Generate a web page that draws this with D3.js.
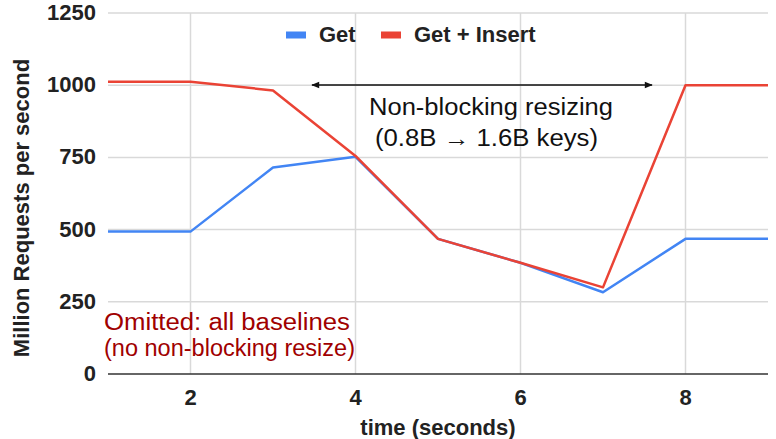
<!DOCTYPE html>
<html>
<head>
<meta charset="utf-8">
<script src="https://cdn.jsdelivr.net/npm/d3@7"></script>
<style>
  body { margin: 0; background: white; }
  svg { display: block; font-family: "Liberation Sans", Arial, sans-serif; }
</style>
</head>
<body>
<svg class="chart" width="776" height="439"></svg>
<script>
const times = [1, 2, 3, 4, 5, 6, 7, 8, 9];
const getValues = [493, 493, 715, 752, 468, 385, 283, 468, 468];
const getInsertValues = [1012, 1012, 982, 755, 468, 385, 300, 1000, 1000];
const xTicks = [2, 4, 6, 8];
const yTicks = [0, 250, 500, 750, 1000, 1250];
const seriesNames = ["Get", "Get + Insert"];
const colors = ["#4285f4", "#ea4335"];

const margin = { left: 108, right: 8, top: 13, bottom: 65 };
const width = 776, height = 439;

const svg = d3.select("svg.chart");

const x = d3.scaleLinear().domain([1, 9]).range([margin.left, width - margin.right]);
const y = d3.scaleLinear().domain([0, 1250]).range([height - margin.bottom, margin.top]);

// grid
svg.append("g")
  .selectAll("line")
  .data(yTicks.filter((d) => d > 0))
  .join("line")
  .attr("x1", x(1))
  .attr("x2", x(9))
  .attr("y1", (d) => y(d))
  .attr("y2", (d) => y(d))
  .attr("stroke", "#d9d9d9")
  .attr("stroke-width", 1.5);

svg.append("g")
  .selectAll("line")
  .data(xTicks)
  .join("line")
  .attr("x1", (d) => x(d))
  .attr("x2", (d) => x(d))
  .attr("y1", y(1250))
  .attr("y2", y(0))
  .attr("stroke", "#d9d9d9")
  .attr("stroke-width", 1.5);

// baseline
svg.append("line")
  .attr("x1", x(1))
  .attr("x2", x(9))
  .attr("y1", y(0))
  .attr("y2", y(0))
  .attr("stroke", "#333")
  .attr("stroke-width", 1.5);

// y labels
svg.append("g")
  .selectAll("text")
  .data(yTicks)
  .join("text")
  .attr("x", 96)
  .attr("y", (d) => y(d) + 7)
  .attr("text-anchor", "end")
  .attr("font-size", 22)
  .attr("font-weight", "bold")
  .attr("fill", "#222")
  .text((d) => d);

// x labels
svg.append("g")
  .selectAll("text")
  .data(xTicks)
  .join("text")
  .attr("x", (d) => x(d))
  .attr("y", 405)
  .attr("text-anchor", "middle")
  .attr("font-size", 22)
  .attr("font-weight", "bold")
  .attr("fill", "#222")
  .text((d) => d);

svg.append("text")
  .attr("x", 438)
  .attr("y", 435)
  .attr("text-anchor", "middle")
  .attr("font-size", 22)
  .attr("font-weight", "bold")
  .attr("fill", "#222")
  .text("time (seconds)");

svg.append("text")
  .attr("transform", "translate(29,208) rotate(-90)")
  .attr("text-anchor", "middle")
  .attr("font-size", 22)
  .attr("font-weight", "bold")
  .attr("fill", "#222")
  .text("Million Requests per second");

// lines
const line = d3.line().x((d) => x(d[0])).y((d) => y(d[1]));
const series = [getValues, getInsertValues];
svg.append("g")
  .selectAll("path")
  .data(series)
  .join("path")
  .attr("d", (vals) => line(times.map((t, i) => [t, vals[i]])))
  .attr("fill", "none")
  .attr("stroke", (d, i) => colors[i])
  .attr("stroke-width", 2.5)
  .attr("stroke-linejoin", "round");

// legend
const legendX = [286, 381];
const lg = svg.append("g")
  .selectAll("g")
  .data(seriesNames)
  .join("g")
  .attr("transform", (d, i) => `translate(${legendX[i]},35)`);
lg.append("rect")
  .attr("x", 0)
  .attr("y", -3.5)
  .attr("width", 20)
  .attr("height", 7)
  .attr("fill", (d, i) => colors[i]);
lg.append("text")
  .attr("x", 33)
  .attr("y", 7)
  .attr("font-size", 22)
  .attr("font-weight", "bold")
  .attr("fill", "#222")
  .text((d) => d);

// annotation arrow
svg.append("defs")
  .append("marker")
  .attr("id", "arrow")
  .attr("viewBox", "0 0 10 10")
  .attr("refX", 9)
  .attr("refY", 5)
  .attr("markerWidth", 10)
  .attr("markerHeight", 8)
  .attr("orient", "auto-start-reverse")
  .attr("markerUnits", "userSpaceOnUse")
  .append("path")
  .attr("d", "M0,1L10,5L0,9Z")
  .attr("fill", "#111");

svg.append("line")
  .attr("x1", 312)
  .attr("x2", 652)
  .attr("y1", 85)
  .attr("y2", 85)
  .attr("stroke", "#111")
  .attr("stroke-width", 1.5)
  .attr("marker-start", "url(#arrow)")
  .attr("marker-end", "url(#arrow)");

svg.append("text")
  .attr("x", 369)
  .attr("y", 115)
  .attr("font-size", 23)
  .attr("textLength", 244)
  .attr("lengthAdjust", "spacingAndGlyphs")
  .attr("fill", "#111")
  .text("Non-blocking resizing");
svg.append("text")
  .attr("x", 375)
  .attr("y", 146)
  .attr("font-size", 23)
  .attr("textLength", 223)
  .attr("lengthAdjust", "spacingAndGlyphs")
  .attr("fill", "#111")
  .text("(0.8B \u2192 1.6B keys)");

// omitted note
svg.append("text")
  .attr("x", 104)
  .attr("y", 330)
  .attr("font-size", 23)
  .attr("textLength", 246)
  .attr("lengthAdjust", "spacingAndGlyphs")
  .attr("fill", "#a00000")
  .text("Omitted: all baselines");
svg.append("text")
  .attr("x", 104)
  .attr("y", 356)
  .attr("font-size", 23)
  .attr("textLength", 251)
  .attr("lengthAdjust", "spacingAndGlyphs")
  .attr("fill", "#a00000")
  .text("(no non-blocking resize)");
</script>
</body>
</html>
